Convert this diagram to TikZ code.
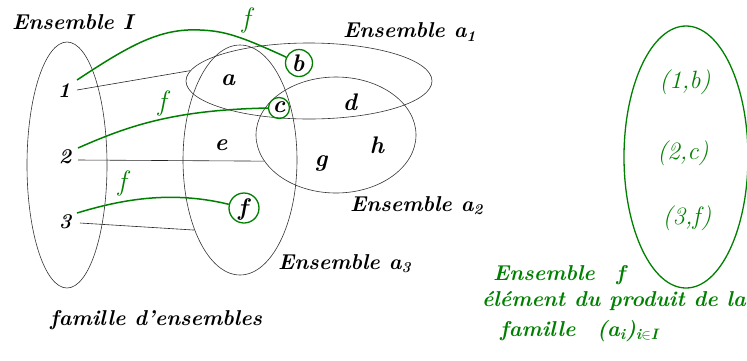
\documentclass[tikz,border=0pt]{standalone}
\usepackage{fontspec}
\usetikzlibrary{shapes.geometric}
\definecolor{fgreen}{RGB}{0,128,0}
\begin{document}
\begin{tikzpicture}[x=1pt,y=-1pt,
  settxt/.style={font=\fontsize{21.5}{24}\selectfont\bfseries\itshape, inner sep=0pt},
  gtxt/.style={settxt, text=fgreen},
  elt/.style={font=\fontsize{24}{26}\selectfont\bfseries\itshape, inner sep=0pt},
  num/.style={font=\fontsize{21}{24}\selectfont\bfseries\itshape, inner sep=0pt},
  flab/.style={font=\fontsize{28}{30}\selectfont\itshape, text=fgreen, inner sep=0pt},
  pair/.style={font=\fontsize{25}{27}\selectfont\itshape, text=fgreen, inner sep=0pt},
  setell/.style={draw=black!80, line width=0.6pt, ellipse, inner sep=0pt},
  gcirc/.style={draw=fgreen, line width=1.3pt, circle, inner sep=0pt},
  fline/.style={draw=fgreen, line width=1.5pt},
  bline/.style={draw=black!85, line width=0.6pt}]
\useasboundingbox (0,0) rectangle (747,360);

% sets
\node[setell, minimum width=80pt, minimum height=246pt] (I) at (67,165) {};
\node[setell, minimum width=114pt, minimum height=230pt] (a3) at (240,160) {};
\node[setell, minimum width=246pt, minimum height=76pt] (a1) at (309,81) {};
\node[setell, minimum width=160pt, minimum height=116pt] (a2) at (336,135) {};
\node[draw=fgreen, line width=1.3pt, ellipse, inner sep=0pt, minimum width=124pt, minimum height=262pt] (F) at (686,157) {};

% set labels
\node[settxt, anchor=west] (lI) at (12,22) {Ensemble I};
\node[settxt, anchor=west] (la1) at (343,32) {Ensemble a\textsubscript{1}};
\node[settxt, anchor=west] (la2) at (350,206) {Ensemble a\textsubscript{2}};
\node[settxt, anchor=west] (la3) at (278,264) {Ensemble a\textsubscript{3}};
\node[settxt, anchor=west] (lfam) at (50,320) {famille d'ensembles};

% elements of I
\node[num] (n1) at (64,91) {1};
\node[num] (n2) at (65,157) {2};
\node[num] (n3) at (65,222) {3};
\coordinate (s1) at (77,80);
\coordinate (s2) at (78,148);
\coordinate (s3) at (77,213);
\coordinate (t1) at (77,90);
\coordinate (t2) at (78,160);
\coordinate (t3) at (80,223);

% elements of the sets
\node[elt] (ea) at (228,80) {a};
\node[elt] (ed) at (350,102) {d};
\node[elt] (ee) at (221,145) {e};
\node[elt] (eg) at (321,163) {g};
\node[elt] (eh) at (377,145) {h};
\node[elt] (eb) at (298,63) {b};
\node[elt] (ec) at (279,107) {c};
\node[elt] (ef) at (243,209) {f};
\node[gcirc, minimum size=27pt] (cb) at (299,63) {};
\node[gcirc, minimum size=21pt] (cc) at (279,108) {};
\node[gcirc, minimum size=30pt] (cf) at (244,208) {};

% black connectors
\draw[bline] (t1) -- (a1.175);
\draw[bline] (t2) -- (a2.200);
\draw[bline] (t3) -- (a3.237);

% green connectors (f)
\draw[fline] (s1) .. controls (130,45) and (160,28) .. (200,30) .. controls (225,31) and (240,36) .. (cb);
\draw[fline] (s2) .. controls (130,125) and (175,110) .. (cc.west);
\draw[fline] (s3) .. controls (120,200) and (170,190) .. (cf);
\node[flab] (f1) at (246,20) {f};
\node[flab] (f2) at (162,103) {f};
\node[flab] (f3) at (122,183) {f};

% right side
\node[pair] (p1) at (685,82) {(1,b)};
\node[pair] (p2) at (683,153) {(2,c)};
\node[pair] (p3) at (687,218) {(3,f)};
\node[gtxt, anchor=west] (g1) at (493,275) {Ensemble\quad f};
\node[gtxt, anchor=east] (g2) at (746,301) {élément du produit de la};
\node[gtxt, anchor=west] (g3) at (500,331) {famille\quad (a\textsubscript{i})\textsubscript{i$\in$I}};
\end{tikzpicture}
\end{document}
